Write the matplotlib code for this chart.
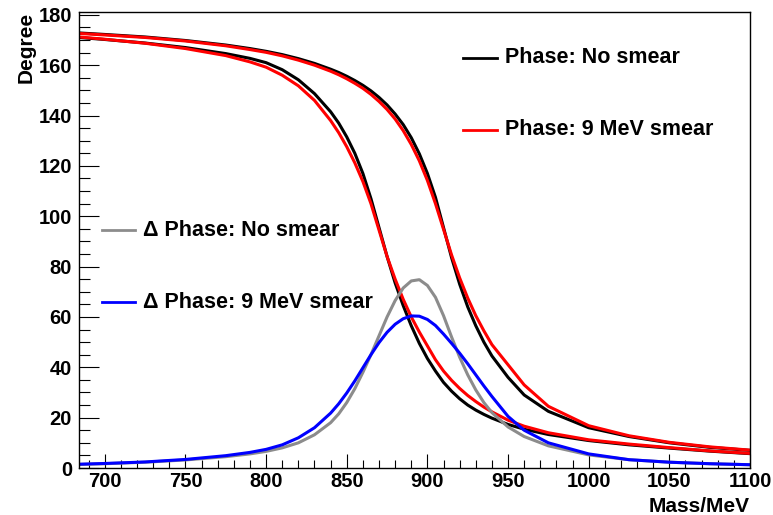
import matplotlib
matplotlib.use("Agg")
import matplotlib.pyplot as plt
from matplotlib.ticker import MultipleLocator

plt.rcParams['font.family'] = ['Liberation Sans', 'DejaVu Sans']
plt.rcParams['font.weight'] = 'bold'

mass = [684, 700, 725, 750, 775, 790, 800, 810, 820, 830,
        840, 845, 850, 855, 860, 865, 870, 875, 880, 885,
        890, 895, 900, 905, 910, 915, 920, 925, 930, 935,
        940, 950, 960, 975, 1000, 1025, 1050, 1075, 1100]

# Phase, no smear (two resonances)
phase_ns_a = [171.0, 170.2, 168.8, 167.0, 164.6, 162.7, 161.0, 158.2, 154.2, 148.7,
              141.5, 137.0, 131.5, 125.0, 117.0, 107.0, 95.5, 84.0, 73.5, 64.5,
              56.5, 49.5, 43.5, 38.5, 34.0, 30.5, 27.5, 25.0, 23.0, 21.3,
              19.8, 17.3, 15.4, 13.3, 10.9, 9.2, 7.9, 6.7, 5.7]
phase_ns_b = [172.8, 172.2, 171.2, 169.8, 168.0, 166.6, 165.5, 164.2, 162.6, 160.7,
              158.4, 157.1, 155.6, 153.9, 152.0, 149.8, 147.2, 144.2, 140.6, 136.4,
              131.2, 124.8, 117.0, 107.5, 95.5, 83.5, 73.0, 64.0, 56.5, 50.0,
              44.5, 36.0, 29.0, 22.5, 16.0, 12.5, 10.0, 8.2, 7.0]
# Phase, 9 MeV smear
phase_sm_a = [171.2, 170.3, 168.7, 166.6, 163.8, 161.3, 159.2, 156.0, 151.8, 146.0,
              138.0, 133.2, 127.6, 121.2, 113.8, 105.0, 94.5, 84.0, 75.0, 67.0,
              60.0, 54.0, 48.5, 43.0, 38.5, 34.8, 31.6, 28.8, 26.4, 24.2,
              22.3, 19.0, 16.6, 14.0, 11.2, 9.5, 8.1, 6.8, 5.8]
phase_sm_b = [172.6, 172.0, 171.0, 169.6, 167.7, 166.2, 165.1, 163.7, 162.0, 160.0,
              157.6, 156.2, 154.6, 152.8, 150.8, 148.4, 145.6, 142.4, 138.6, 134.0,
              128.5, 122.0, 114.2, 105.0, 94.8, 84.6, 75.5, 67.5, 60.5, 54.5,
              49.0, 41.0, 33.0, 24.5, 16.8, 12.8, 10.2, 8.4, 7.1]
# Delta phase
dphase_ns = [1.4, 1.7, 2.3, 3.2, 4.5, 5.6, 6.6, 8.0, 10.0, 13.2,
             18.0, 21.5, 26.0, 31.5, 38.0, 45.0, 52.5, 60.0, 66.5, 71.5,
             74.3, 74.8, 72.5, 67.8, 60.5, 52.0, 44.0, 37.0, 31.0, 26.0,
             22.0, 16.3, 12.5, 8.8, 5.2, 3.3, 2.3, 1.7, 1.3]
dphase_sm = [1.5, 1.8, 2.4, 3.4, 4.9, 6.2, 7.4, 9.2, 12.0, 16.0,
             21.8, 25.5, 29.8, 34.6, 39.8, 45.0, 49.8, 53.9, 57.1, 59.3,
             60.4, 60.3, 59.0, 56.6, 53.2, 49.5, 45.6, 41.4, 37.0, 32.6,
             28.4, 20.5, 15.0, 10.0, 5.6, 3.3, 2.3, 1.7, 1.3]

x_ticks = [700, 750, 800, 850, 900, 950, 1000, 1050, 1100]
y_ticks = [0, 20, 40, 60, 80, 100, 120, 140, 160, 180]

fig = plt.figure(figsize=(7.73, 5.15), dpi=100)
ax = fig.add_axes([79/773, 47/515, 671/773, 455.7/515])

lw = 2.2
ax.plot(mass, phase_ns_a, color='black', lw=lw)
ax.plot(mass, phase_ns_b, color='black', lw=lw)
ax.plot(mass, phase_sm_a, color='#ff0000', lw=lw)
ax.plot(mass, phase_sm_b, color='#ff0000', lw=lw)
ax.plot(mass, dphase_ns, color='#8c8c8c', lw=lw)
ax.plot(mass, dphase_sm, color='#0000ff', lw=lw)

ax.set_xlim(684, 1100)
ax.set_ylim(0, 181)
ax.set_xticks(x_ticks)
ax.set_yticks(y_ticks)
ax.xaxis.set_minor_locator(MultipleLocator(10))
ax.yaxis.set_minor_locator(MultipleLocator(5))
ax.tick_params(axis='y', which='major', direction='in', length=14.4, width=0.8,
               labelsize=14.5, pad=5, right=False)
ax.tick_params(axis='y', which='minor', direction='in', length=8, width=0.8, right=False)
ax.tick_params(axis='x', which='major', direction='in', length=10, width=0.8,
               labelsize=14.5, pad=3, top=False)
ax.tick_params(axis='x', which='minor', direction='in', length=5.5, width=0.8, top=False)
for lab in ax.get_xticklabels() + ax.get_yticklabels():
    lab.set_fontweight('bold')
for s in ax.spines.values():
    s.set_linewidth(1.0)

ax.set_xlabel('Mass/MeV', fontsize=15, fontweight='bold', loc='right', labelpad=4)
ax.set_ylabel('Degree', fontsize=15, fontweight='bold', loc='top', labelpad=2)

# legend-like labels
def entry(x0, x1, y, color, label):
    ax.plot([x0, x1], [y, y], color=color, lw=2, transform=ax.transAxes, clip_on=False)
    ax.text(x1 + 0.012, y, label, transform=ax.transAxes, fontsize=15.5,
            fontweight='bold', va='center', ha='left')

entry(0.572, 0.623, 0.900, 'black', 'Phase: No smear')
entry(0.572, 0.623, 0.742, '#ff0000', 'Phase: 9 MeV smear')
entry(0.034, 0.083, 0.522, '#8c8c8c', 'Δ Phase: No smear')
entry(0.034, 0.083, 0.364, '#0000ff', 'Δ Phase: 9 MeV smear')

fig.savefig('out.png', dpi=100)
